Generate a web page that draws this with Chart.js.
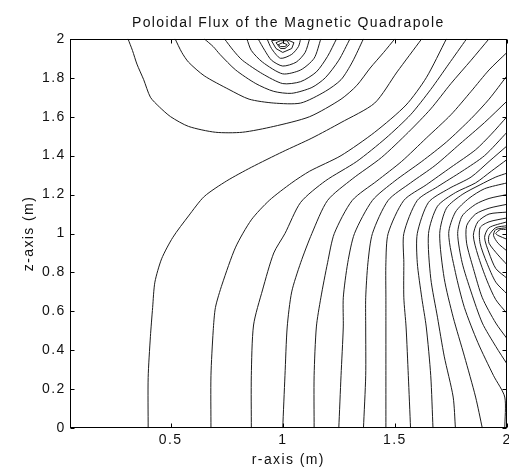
<!DOCTYPE html>
<html>
<head>
<meta charset="utf-8">
<title>Poloidal Flux of the Magnetic Quadrapole</title>
<script src="https://cdn.jsdelivr.net/npm/chart.js@4.4.1/dist/chart.umd.min.js"></script>
<style>
  html, body { margin: 0; padding: 0; background: #fff; }
  #wrap { width: 509px; height: 472px; }
</style>
</head>
<body>
<div id="wrap"><canvas id="flux"></canvas></div>
<script>
// Tick positions for both axes
const rTicks = [0.5, 1, 1.5, 2];
const zTicks = [0, 0.2, 0.4, 0.6, 0.8, 1, 1.2, 1.4, 1.6, 1.8, 2];

// Contour lines as [r, z] pairs (m)
// lines that start on the bottom edge
const c1 = [[0.40,0],[0.40,0.26],[0.41,0.47],[0.42,0.62],[0.43,0.75],[0.46,0.87],[0.51,0.98],[0.58,1.09],[0.65,1.19],[0.75,1.27],[0.86,1.34],[1.00,1.42],[1.13,1.49],[1.26,1.57],[1.41,1.67],[1.51,1.83],[1.62,2.0]];
const c2 = [[0.68,0],[0.68,0.27],[0.69,0.50],[0.70,0.62],[0.73,0.74],[0.79,0.93],[0.86,1.07],[0.94,1.17],[1.04,1.26],[1.12,1.32],[1.26,1.40],[1.41,1.52],[1.55,1.66],[1.64,1.80],[1.73,2.0]];
const c3 = [[0.86,0],[0.86,0.27],[0.87,0.53],[0.91,0.71],[0.96,0.90],[1.01,1.00],[1.08,1.16],[1.19,1.27],[1.33,1.37],[1.46,1.49],[1.57,1.61],[1.66,1.74],[1.74,1.87],[1.82,2.0]];
const c4 = [[1.00,0],[1.01,0.27],[1.02,0.52],[1.04,0.70],[1.08,0.85],[1.13,1.00],[1.20,1.17],[1.31,1.28],[1.44,1.39],[1.56,1.52],[1.66,1.64],[1.75,1.77],[1.84,1.89],[1.92,2.0]];
const c5 = [[1.14,0],[1.14,0.27],[1.15,0.52],[1.17,0.67],[1.20,0.85],[1.23,1.00],[1.31,1.17],[1.42,1.27],[1.53,1.37],[1.64,1.49],[1.75,1.61],[1.84,1.73],[1.92,1.84],[2.0,1.93]];
const c6 = [[1.25,0],[1.26,0.27],[1.27,0.52],[1.27,0.67],[1.29,0.85],[1.32,1.00],[1.40,1.17],[1.50,1.27],[1.62,1.37],[1.73,1.47],[1.84,1.59],[1.92,1.69],[2.0,1.81]];
const c7 = [[1.36,0],[1.37,0.27],[1.37,0.52],[1.37,0.67],[1.38,0.85],[1.40,1.00],[1.47,1.17],[1.57,1.26],[1.68,1.35],[1.79,1.46],[1.90,1.57],[2.0,1.68]];
const c8 = [[1.46,0],[1.46,0.27],[1.46,0.52],[1.46,0.67],[1.46,0.85],[1.47,1.00],[1.54,1.17],[1.64,1.25],[1.75,1.34],[1.86,1.43],[1.93,1.51],[2.0,1.60]];
const c9 = [[1.57,0],[1.56,0.27],[1.55,0.52],[1.54,0.67],[1.54,0.85],[1.54,1.00],[1.60,1.17],[1.69,1.24],[1.80,1.32],[1.90,1.40],[2.0,1.52]];
const c10 = [[1.67,0],[1.66,0.27],[1.64,0.52],[1.62,0.67],[1.60,0.85],[1.60,1.00],[1.65,1.16],[1.74,1.23],[1.84,1.29],[1.92,1.37],[2.0,1.45]];
const c11 = [[1.77,0],[1.76,0.16],[1.72,0.37],[1.69,0.57],[1.66,0.77],[1.65,1.00],[1.69,1.14],[1.77,1.21],[1.86,1.26],[1.93,1.32],[2.0,1.38]];
const c12 = [[1.89,0],[1.86,0.16],[1.81,0.37],[1.76,0.57],[1.72,0.77],[1.70,1.00],[1.73,1.13],[1.80,1.20],[1.88,1.25],[1.95,1.29],[2.0,1.31]];
const c13 = [[1.99,0],[1.99,0.16],[1.94,0.27],[1.87,0.44],[1.81,0.62],[1.77,0.80],[1.74,1.00],[1.77,1.11],[1.83,1.18],[1.90,1.23],[2.0,1.26]];

// arcs around the coil at r = 2, z = 1
const c14 = [[2.0,0.33],[1.95,0.42],[1.89,0.54],[1.84,0.70],[1.80,0.85],[1.78,1.00],[1.80,1.09],[1.86,1.15],[1.92,1.18],[2.0,1.20]];
const c15 = [[2.0,0.46],[1.95,0.54],[1.89,0.67],[1.85,0.82],[1.82,0.95],[1.82,1.04],[1.86,1.10],[1.92,1.13],[2.0,1.15]];
const c16 = [[2.0,0.59],[1.95,0.66],[1.91,0.76],[1.87,0.89],[1.85,0.99],[1.87,1.06],[1.92,1.10],[2.0,1.11]];
const c17 = [[2.0,0.69],[1.95,0.75],[1.91,0.85],[1.88,0.95],[1.88,1.03],[1.92,1.06],[2.0,1.08]];
const c18 = [[2.0,0.77],[1.95,0.82],[1.92,0.90],[1.90,0.98],[1.92,1.03],[2.0,1.06]];
const c19 = [[2.0,0.84],[1.96,0.89],[1.92,0.95],[1.92,0.99],[1.95,1.03],[2.0,1.04]];
const c20 = [[2.0,0.91],[1.96,0.95],[1.94,0.99],[1.95,1.02],[2.0,1.03]];
const c21 = [[2.0,0.97],[1.96,0.99],[1.95,1.00],[1.97,1.02],[2.0,1.02]];

// arcs around the coil at r = 1, z = 2
const c0 = [[0.31,2.0],[0.33,1.94],[0.35,1.87],[0.38,1.79],[0.41,1.70],[0.45,1.65],[0.50,1.60],[0.58,1.55],[0.70,1.52],[0.82,1.52],[0.96,1.55],[1.12,1.60],[1.26,1.69],[1.33,1.76],[1.39,1.85],[1.45,1.93],[1.50,2.0]];
const l2 = [[0.52,2.0],[0.55,1.93],[0.58,1.88],[0.65,1.81],[0.76,1.74],[0.85,1.69],[0.96,1.67],[1.08,1.67],[1.19,1.73],[1.26,1.79],[1.31,1.88],[1.36,2.0]];
const l3 = [[0.65,2.0],[0.69,1.96],[0.72,1.92],[0.79,1.84],[0.88,1.77],[0.96,1.73],[1.04,1.72],[1.13,1.75],[1.19,1.80],[1.25,1.89],[1.30,2.0]];
const l4 = [[0.74,2.0],[0.78,1.94],[0.82,1.89],[0.91,1.82],[1.00,1.77],[1.08,1.78],[1.15,1.83],[1.20,1.91],[1.24,2.0]];
const l5 = [[0.84,2.0],[0.86,1.94],[0.91,1.88],[1.00,1.82],[1.08,1.84],[1.14,1.90],[1.17,2.0]];
const l6 = [[0.89,2.0],[0.92,1.94],[0.95,1.89],[1.00,1.86],[1.06,1.88],[1.10,1.93],[1.12,2.0]];
const l7 = [[0.93,2.0],[0.95,1.95],[0.99,1.90],[1.04,1.92],[1.07,1.96],[1.08,2.0]];
// small closed rings right at the coil
const l8 = [[0.95,1.99],[0.97,1.95],[1.00,1.93],[1.04,1.95],[1.05,1.98],[1.02,1.995],[0.98,1.995],[0.95,1.99]];
const l9 = [[0.97,1.98],[0.99,1.95],[1.01,1.95],[1.03,1.97],[1.02,1.99],[0.99,1.99],[0.97,1.98]];
const l10 = [[0.98,1.97],[0.99,1.96],[1.01,1.96],[1.02,1.97],[1.00,1.98],[0.98,1.97]];

const contours = [c0, c1, c2, c3, c4, c5, c6, c7, c8, c9, c10, c11, c12, c13,
  c14, c15, c16, c17, c18, c19, c20, c21, l2, l3, l4, l5, l6, l7];
const rings = [l8, l9, l10];

const fontFamily = '"Liberation Sans", Arial, Helvetica, sans-serif';

// wide letter spacing like the old plotting font
const spacing = {
  id: 'spacing',
  beforeLayout(chart) { chart.ctx.letterSpacing = '1.4px'; },
  beforeDraw(chart) { chart.ctx.letterSpacing = '1.4px'; }
};

// box around the plot with inward ticks on all four sides
const frame = {
  id: 'frame',
  afterDatasetsDraw(chart) {
    const { ctx, chartArea: a, scales: { x, y } } = chart;
    const left = Math.round(a.left) + 0.5, right = Math.round(a.right) - 0.5;
    const top = Math.round(a.top) + 0.5, bottom = Math.round(a.bottom) - 0.5;
    const len = 4;
    ctx.save();
    ctx.strokeStyle = '#000';
    ctx.lineWidth = 1;
    ctx.strokeRect(left, top, right - left, bottom - top);
    ctx.beginPath();
    x.ticks.forEach(t => {
      const px = Math.round(x.getPixelForValue(t.value)) + 0.5;
      ctx.moveTo(px, bottom); ctx.lineTo(px, bottom - len);
      ctx.moveTo(px, top); ctx.lineTo(px, top + len);
    });
    y.ticks.forEach(t => {
      const py = Math.round(y.getPixelForValue(t.value)) + 0.5;
      ctx.moveTo(left, py); ctx.lineTo(left + len, py);
      ctx.moveTo(right, py); ctx.lineTo(right - len, py);
    });
    ctx.stroke();
    ctx.restore();
  }
};

function lineSet(pts, tension) {
  return {
    data: pts.map(([r, z]) => ({ x: r, y: z })),
    showLine: true,
    pointRadius: 0,
    borderColor: '#1c1c1c',
    borderWidth: 1,
    tension: tension,
    fill: false
  };
}

const ctx = document.getElementById('flux').getContext('2d');
new Chart(ctx, {
  type: 'scatter',
  data: {
    datasets: contours.map(p => lineSet(p, 0.25)).concat(rings.map(p => lineSet(p, 0)))
  },
  options: {
    responsive: true,
    maintainAspectRatio: false,
    animation: false,
    layout: { padding: { left: 16, right: 2, top: 0, bottom: 0 } },
    plugins: {
      legend: { display: false },
      tooltip: { enabled: false },
      title: {
        display: true,
        text: 'Poloidal Flux of the Magnetic Quadrapole',
        fullSize: false,
        color: '#111',
        font: { family: fontFamily, size: 14, weight: 'normal', lineHeight: 1.2 },
        padding: { top: 15, bottom: 7 }
      }
    },
    scales: {
      x: {
        type: 'linear',
        min: 0.05,
        max: 2,
        afterBuildTicks: s => { s.ticks = rTicks.map(v => ({ value: v })); },
        afterFit: s => { s.paddingLeft = 0; s.paddingRight = 0; },
        grid: { display: false, drawTicks: false },
        border: { display: false },
        ticks: {
          color: '#111',
          padding: 4,
          maxRotation: 0,
          font: { family: fontFamily, size: 14, lineHeight: 1.2 },
          callback: v => String(v)
        },
        title: {
          display: true,
          text: 'r-axis (m)',
          color: '#111',
          font: { family: fontFamily, size: 14, lineHeight: 1 },
          padding: { top: 0, bottom: 5 }
        }
      },
      y: {
        type: 'linear',
        min: 0,
        max: 2,
        afterBuildTicks: s => { s.ticks = zTicks.map(v => ({ value: v })); },
        grid: { display: false, drawTicks: false },
        border: { display: false },
        ticks: {
          color: '#111',
          padding: 4,
          font: { family: fontFamily, size: 14, lineHeight: 1.2 },
          callback: v => String(v)
        },
        title: {
          display: true,
          text: 'z-axis (m)',
          color: '#111',
          font: { family: fontFamily, size: 14, lineHeight: 1 },
          padding: { top: 6, bottom: 2 }
        }
      }
    }
  },
  plugins: [spacing, frame]
});
</script>
</body>
</html>
